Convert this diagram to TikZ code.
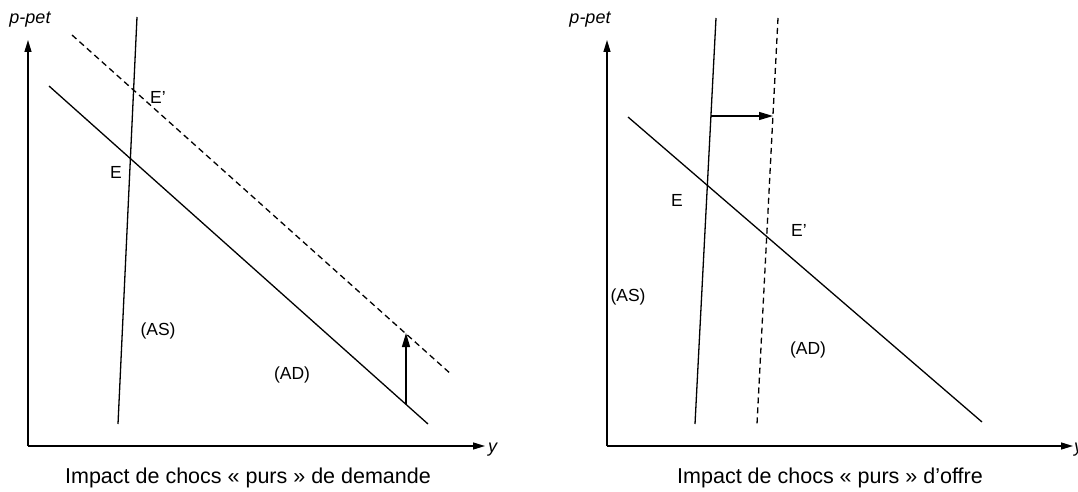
\documentclass[tikz,border=0pt]{standalone}
\usepackage{fontspec}
\setmainfont{Liberation Sans}
\usetikzlibrary{arrows.meta}
\tikzset{
  curve/.style={line width=1.3pt},
  dashcurve/.style={line width=1.3pt, dash pattern=on 6pt off 4pt},
  axisarrow/.style={line width=1.3pt, -{Triangle[length=12pt,width=7pt]}},
  shiftarrow/.style={line width=1.3pt, -{Triangle[length=14pt,width=8pt]}},
  lbl/.style={font=\fontsize{17.5}{20}\selectfont, inner sep=0pt},
  axlbl/.style={font=\fontsize{18}{20}\selectfont\itshape, inner sep=0pt},
  captiontext/.style={font=\fontsize{21.5}{24}\selectfont, inner sep=0pt}
}
\begin{document}
\begin{tikzpicture}[x=1pt,y=-1pt]
\useasboundingbox (0,0) rectangle (1078,492);
% ---------- left panel ----------
\coordinate (O1) at (28,446);
\coordinate (Y1) at (28,40);
\coordinate (X1) at (485,446);
\draw[axisarrow] (O1) -- (Y1);
\draw[axisarrow] (O1) -- (X1);
\node[axlbl] (pp1) at (30,20) {p-pet};
\node[axlbl, anchor=west] (y1) at (488,450) {y};
\coordinate (AS1t) at (137,17);
\coordinate (AS1b) at (118,424);
\draw[curve] (AS1t) -- (AS1b);
\coordinate (AD1t) at (49,86);
\coordinate (AD1b) at (428,424);
\draw[curve] (AD1t) -- (AD1b);
\coordinate (AD2t) at (72,35);
\coordinate (AD2b) at (452,375);
\draw[dashcurve] (AD2t) -- (AD2b);
\coordinate (S1a) at (406,404);
\coordinate (S1b) at (406,333);
\draw[shiftarrow] (S1a) -- (S1b);
\node[lbl] (E1) at (116,172) {E};
\node[lbl] (Ep1) at (158,97) {E’};
\node[lbl] (AS1) at (158,331) {(AS)};
\node[lbl] (AD1) at (292,375) {(AD)};
\node[captiontext] (c1) at (248,478) {Impact de chocs « purs » de demande};
% ---------- right panel ----------
\coordinate (O2) at (607,446);
\coordinate (Y2) at (607,40);
\coordinate (X2) at (1073,446);
\draw[axisarrow] (O2) -- (Y2);
\draw[axisarrow] (O2) -- (X2);
\node[axlbl] (pp2) at (590,20) {p-pet};
\node[axlbl, anchor=west] (y2) at (1074,450) {y};
\coordinate (AS2t) at (716,18);
\coordinate (AS2b) at (695,424);
\draw[curve] (AS2t) -- (AS2b);
\coordinate (AS3t) at (778,18);
\coordinate (AS3b) at (757,424);
\draw[dashcurve] (AS3t) -- (AS3b);
\coordinate (AD3t) at (628,117);
\coordinate (AD3b) at (982,422);
\draw[curve] (AD3t) -- (AD3b);
\coordinate (S2a) at (711,116);
\coordinate (S2b) at (773,116);
\draw[shiftarrow] (S2a) -- (S2b);
\node[lbl] (E2) at (677,200) {E};
\node[lbl] (Ep2) at (799,230) {E’};
\node[lbl] (AS2) at (628,297) {(AS)};
\node[lbl] (AD2) at (808,350) {(AD)};
\node[captiontext] (c2) at (830,478) {Impact de chocs « purs » d’offre};
\end{tikzpicture}
\end{document}
